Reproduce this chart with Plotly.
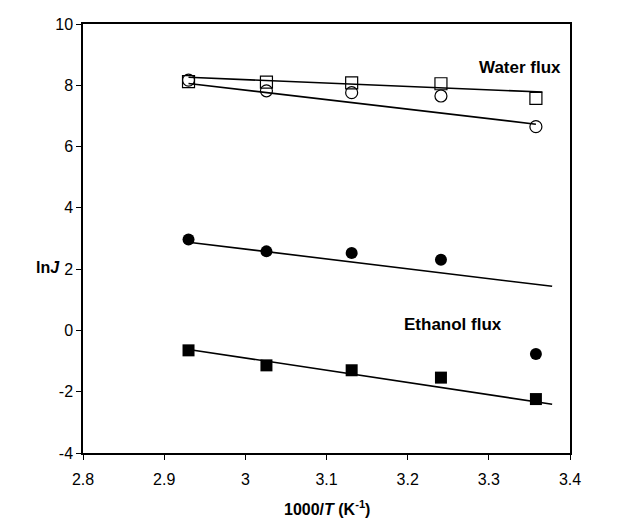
import plotly.graph_objects as go

# Data
x_vals = [2.93, 3.026, 3.131, 3.241, 3.358]
water_sq = [8.12, 8.10, 8.08, 8.05, 7.57]      # open squares
water_ci = [8.17, 7.82, 7.76, 7.65, 6.65]      # open circles
eth_ci = [2.97, 2.58, 2.53, 2.31, -0.77]       # filled circles
eth_sq = [-0.65, -1.14, -1.30, -1.54, -2.24]   # filled squares

# Fitted lines (end points)
fit_wsq_x = [2.93, 3.366]
fit_wsq_y = [8.26, 7.78]
fit_wci_x = [2.93, 3.358]
fit_wci_y = [8.06, 6.73]
fit_eci_x = [2.93, 3.378]
fit_eci_y = [2.88, 1.44]
fit_esq_x = [2.93, 3.378]
fit_esq_y = [-0.62, -2.41]

x_ticks = [2.8, 2.9, 3.0, 3.1, 3.2, 3.3, 3.4]
x_tick_text = ["2.8", "2.9", "3", "3.1", "3.2", "3.3", "3.4"]
y_ticks = [-4, -2, 0, 2, 4, 6, 8, 10]
y_tick_text = ["-4", "-2", "0", "2", "4", "6", "8", "10"]

FONT = "Liberation Sans, Arial, sans-serif"

fig = go.Figure()

for fx, fy in [(fit_wsq_x, fit_wsq_y), (fit_wci_x, fit_wci_y),
               (fit_eci_x, fit_eci_y), (fit_esq_x, fit_esq_y)]:
    fig.add_trace(go.Scatter(x=fx, y=fy, mode="lines",
                             line=dict(color="black", width=1.6),
                             showlegend=False, hoverinfo="skip"))

fig.add_trace(go.Scatter(x=x_vals, y=water_sq, mode="markers",
                         marker=dict(symbol="square-open", size=12, color="black",
                                     line=dict(width=1.2, color="black")),
                         showlegend=False))
fig.add_trace(go.Scatter(x=x_vals, y=water_ci, mode="markers",
                         marker=dict(symbol="circle-open", size=12, color="black",
                                     line=dict(width=1.2, color="black")),
                         showlegend=False))
fig.add_trace(go.Scatter(x=x_vals, y=eth_ci, mode="markers",
                         marker=dict(symbol="circle", size=12, color="black"),
                         showlegend=False))
fig.add_trace(go.Scatter(x=x_vals, y=eth_sq, mode="markers",
                         marker=dict(symbol="square", size=12, color="black"),
                         showlegend=False))

fig.add_annotation(x=3.339, y=8.58, text="<b>Water flux</b>", showarrow=False,
                   font=dict(family=FONT, size=17, color="black"))
fig.add_annotation(x=3.256, y=0.18, text="<b>Ethanol flux</b>", showarrow=False,
                   font=dict(family=FONT, size=17, color="black"))
fig.add_annotation(xref="paper", yref="y", x=-0.044, y=2.04, xanchor="right",
                   text="<b>ln<i>J</i></b>", showarrow=False,
                   font=dict(family=FONT, size=16, color="black"))
fig.add_annotation(xref="paper", yref="paper", x=0.5, y=-0.128,
                   text="<b>1000/<i>T</i> (K<sup>-1</sup>)</b>", showarrow=False,
                   yanchor="middle",
                   font=dict(family=FONT, size=16, color="black"))

fig.update_xaxes(range=[2.8, 3.4], tickvals=x_ticks, ticktext=x_tick_text,
                 ticks="outside", ticklen=5, tickwidth=1.2, tickcolor="black",
                 ticklabelstandoff=6,
                 showline=True, linecolor="black", linewidth=1.5, mirror=True,
                 showgrid=False, zeroline=False,
                 tickfont=dict(family=FONT, size=16, color="black"))
fig.update_yaxes(range=[-4, 10], tickvals=y_ticks, ticktext=y_tick_text,
                 ticks="outside", ticklen=5, tickwidth=1.2, tickcolor="black",
                 showline=True, linecolor="black", linewidth=1.5, mirror=True,
                 showgrid=False, zeroline=False,
                 tickfont=dict(family=FONT, size=16, color="black"))

fig.update_layout(width=641, height=526,
                  margin=dict(l=83, r=71, t=24, b=73),
                  plot_bgcolor="white", paper_bgcolor="white",
                  font=dict(family=FONT, color="black"))

fig.write_html("out.html")
